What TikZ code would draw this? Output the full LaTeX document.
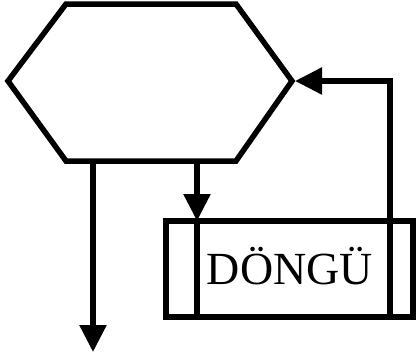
\documentclass[tikz,border=0pt]{standalone}
\usepackage{fontspec}
\setmainfont{Liberation Serif}
\usetikzlibrary{arrows.meta}
\begin{document}
\begin{tikzpicture}[x=1pt,y=-1pt,
  line/.style={line width=5.5pt},
  arr/.style={line width=5.5pt,-{Triangle[length=27pt,width=26pt]}},
  lbl/.style={font=\fontsize{46}{46}\selectfont,inner sep=0pt}]
\useasboundingbox (0,0) rectangle (417,356);
% hexagon
\coordinate (h1) at (66,4);
\coordinate (h2) at (236,4);
\coordinate (h3) at (292,81);
\coordinate (h4) at (236,161);
\coordinate (h5) at (66,161);
\coordinate (h6) at (8,81);
\draw[line,line join=miter] (h1) -- (h2) -- (h3) -- (h4) -- (h5) -- (h6) -- cycle;
% box
\coordinate (b1) at (166,221);
\coordinate (b2) at (413,317);
\draw[line] (b1) rectangle (b2);
\coordinate (i1t) at (197,221);
\coordinate (i1b) at (197,317);
\coordinate (i2t) at (390,221);
\coordinate (i2b) at (390,317);
\draw[line] (i1t) -- (i1b);
\draw[line] (i2t) -- (i2b);
\node[lbl,anchor=base] (t) at (290,284) {DÖNGÜ};
% arrows
\coordinate (d1) at (197,161);
\draw[arr] (d1) -- (i1t);
\coordinate (c1) at (390,81);
\coordinate (r0) at (295,81);
\draw[arr] (i2t) -- (c1) -- (r0);
\coordinate (l0) at (93,161);
\coordinate (l1) at (93,352);
\draw[arr] (l0) -- (l1);
\end{tikzpicture}
\end{document}
